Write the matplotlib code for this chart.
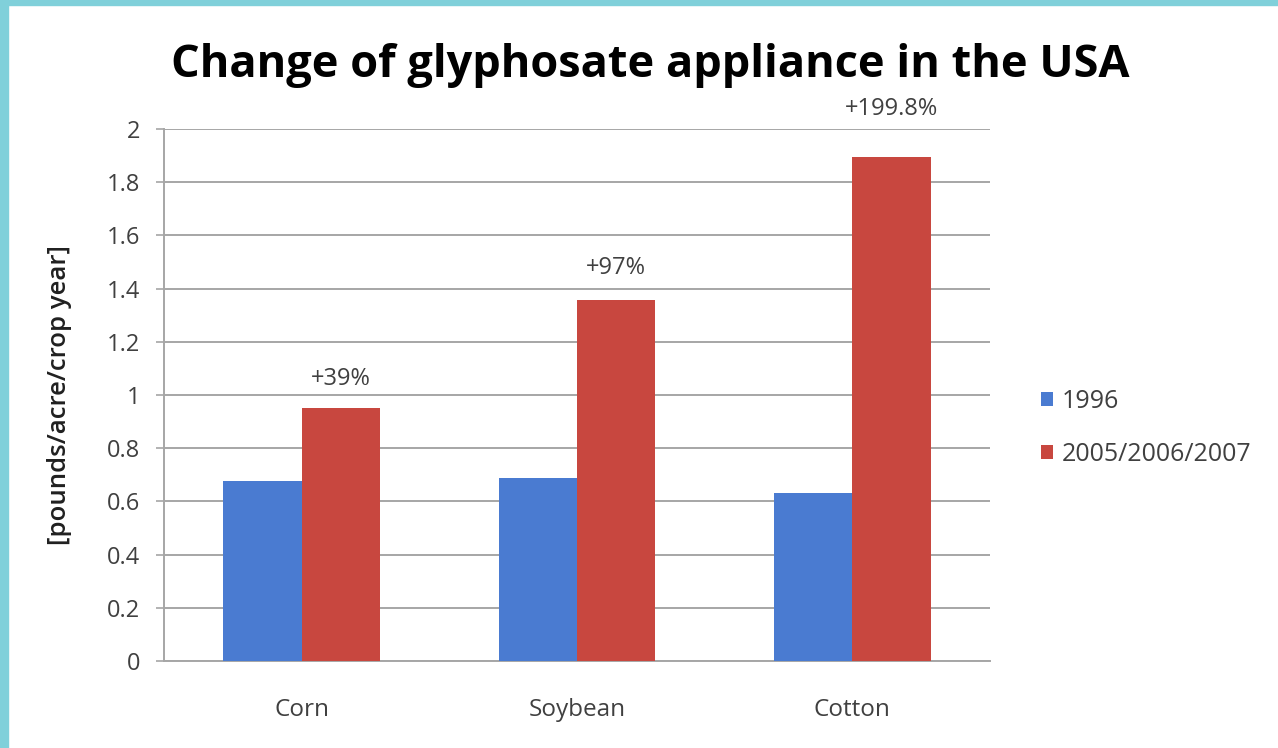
import matplotlib
matplotlib.use('Agg')
import matplotlib.pyplot as plt
import numpy as np
from matplotlib.patches import Rectangle

plt.rcParams['font.family'] = ['Open Sans', 'DejaVu Sans']

# values
crops = ['Corn', 'Soybean', 'Cotton']
series_names = ['1996', '2005/2006/2007']
use_1996 = [0.677, 0.688, 0.632]
use_2005_07 = [0.951, 1.357, 1.896]
change_labels = ['+39%', '+97%', '+199.8%']
y_ticks = [0, 0.2, 0.4, 0.6, 0.8, 1, 1.2, 1.4, 1.6, 1.8, 2]

blue = '#4a7bd1'
red = '#c8473f'
txt = '#404040'

fig = plt.figure(figsize=(12.78, 7.48), dpi=100)
fig.patch.set_facecolor('white')

# cyan frame on the left and top edges
fig.patches.append(Rectangle((0, 0), 8 / 1278, 1, transform=fig.transFigure,
                             color='#80d0da', zorder=0))
fig.patches.append(Rectangle((0, 1 - 5 / 748), 1, 5 / 748, transform=fig.transFigure,
                             color='#80d0da', zorder=0))

ax = fig.add_axes([164 / 1278, 1 - 661 / 748, 826 / 1278, 532 / 748])

x = np.arange(len(crops))
w = 0.285
ax.bar(x - w / 2, use_1996, w, color=blue, label=series_names[0], zorder=3)
bars_new = ax.bar(x + w / 2, use_2005_07, w, color=red, label=series_names[1], zorder=3)

# percentage change above the newer bars
offsets = [21, 23, 34]
for rect, lab, off in zip(bars_new, change_labels, offsets):
    ax.annotate(lab, (rect.get_x() + rect.get_width() / 2, rect.get_height()),
                xytext=(0, off), textcoords='offset points', ha='center', va='center',
                fontsize=17, color=txt)

ax.set_xlim(-0.5, 2.5)
ax.set_ylim(0, 2)
ax.set_yticks(y_ticks)
ax.set_yticklabels([f'{t:g}' for t in y_ticks])
ax.set_xticks(x)
ax.set_xticklabels(crops)
ax.yaxis.grid(True, color='#a6a6a6', linewidth=1.4, zorder=0)
ax.set_axisbelow(True)

for s in ['top', 'right']:
    ax.spines[s].set_visible(False)
ax.spines['left'].set_color('#a6a6a6')
ax.spines['bottom'].set_color('#a6a6a6')
ax.spines['left'].set_linewidth(1.4)
ax.spines['bottom'].set_linewidth(1.4)
ax.tick_params(axis='y', length=6, width=1.2, color='#a6a6a6', labelsize=17,
               labelcolor=txt, pad=11)
ax.tick_params(axis='x', length=0, labelsize=17.5, labelcolor=txt, pad=27)

ax.set_ylabel('[pounds/acre/crop year]', fontsize=18.5, color='#202020',
              fontweight='semibold')
ax.yaxis.set_label_coords(-92 / 826, 0.5)

fig.text(650 / 1278, 1 - 65 / 748, 'Change of glyphosate appliance in the USA',
         ha='center', va='center', fontsize=32.5, fontweight='bold', color='black')

fig.legend(loc='center left', bbox_to_anchor=(1018 / 1278, 1 - 428 / 748),
           frameon=False, fontsize=18, handlelength=0.5, handleheight=0.5,
           labelspacing=1.1, handletextpad=0.35, labelcolor=txt)

fig.savefig('out.png', dpi=100)
